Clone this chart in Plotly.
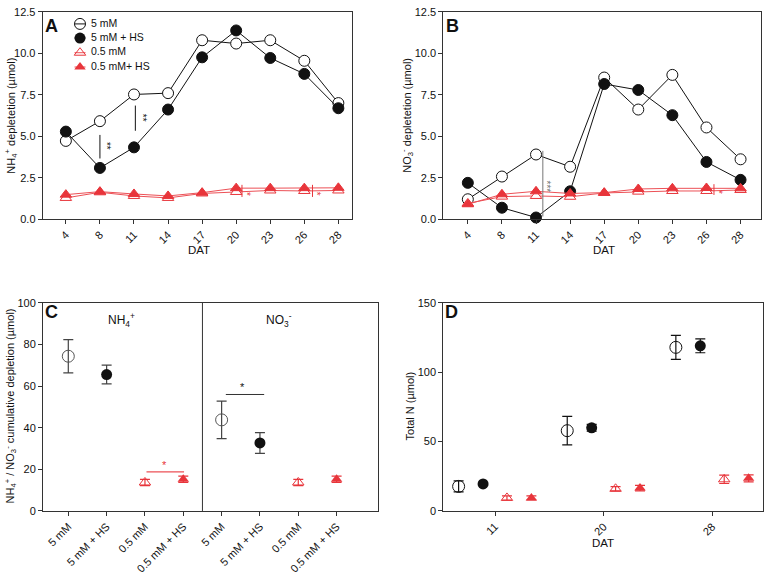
import plotly.graph_objects as go

# ---------------- data ----------------
DAT = ["4", "8", "11", "14", "17", "20", "23", "26", "28"]
SERIES = ["5 mM", "5 mM + HS", "0.5 mM", "0.5 mM+ HS"]

# Panel A: NH4+ depletion (umol)
A_5 = [4.72, 5.91, 7.52, 7.60, 10.79, 10.59, 10.79, 9.55, 7.00]
A_5HS = [5.28, 3.09, 4.33, 6.61, 9.76, 11.38, 9.72, 8.76, 6.69]
A_05 = [1.28, 1.62, 1.40, 1.28, 1.55, 1.64, 1.73, 1.70, 1.73]
A_05HS = [1.48, 1.66, 1.52, 1.40, 1.60, 1.87, 1.87, 1.87, 1.89]

# Panel B: NO3- depletion (umol)
B_5 = [1.20, 2.57, 3.90, 3.16, 8.54, 6.61, 8.70, 5.53, 3.61]
B_5HS = [2.19, 0.69, 0.10, 1.68, 8.15, 7.79, 6.27, 3.45, 2.37]
B_05 = [0.95, 1.36, 1.40, 1.35, 1.58, 1.66, 1.70, 1.70, 1.76]
B_05HS = [0.90, 1.50, 1.68, 1.55, 1.60, 1.82, 1.86, 1.88, 1.86]

# Panel C: cumulative depletion (umol)
C_LABELS = ["5 mM", "5 mM + HS", "0.5 mM", "0.5 mM + HS"]
C_IONS = ["NH<sub>4</sub><sup>+</sup>", "NO<sub>3</sub><sup>-</sup>"]
C_NH4 = [74.4, 65.6, 13.7, 15.2]
C_NH4_ERR = [8.0, 4.5, 1.5, 1.5]
C_NO3 = [43.8, 32.7, 13.7, 15.2]
C_NO3_ERR = [9.0, 5.0, 1.5, 1.5]

# Panel D: total N (umol)
D_DAT = ["11", "20", "28"]
D_5 = [17.7, 57.9, 118.0]
D_5_ERR = [4.0, 10.3, 8.7]
D_5HS = [19.5, 60.0, 119.1]
D_5HS_ERR = [1.0, 2.5, 5.0]
D_05 = [9.4, 16.0, 22.8]
D_05_ERR = [1.5, 1.5, 3.0]
D_05HS = [9.4, 16.5, 23.5]
D_05HS_ERR = [1.5, 2.0, 2.5]

# ---------------- style ----------------
W, H = 765, 576
FONT = "Liberation Sans, Arial, sans-serif"
BLACK = "#111111"
AX = "#333333"
RED = "#e8353b"
RED_LINE = "#ec5056"
D_OFFSETS = [-0.335, -0.11, 0.11, 0.335]


def px_x(p):
    return p / W


def px_y(p):
    return 1 - p / H


dom = {
    "A": ([px_x(42.7), px_x(352)], [px_y(217.7), px_y(6)]),
    "B": ([px_x(443.3), px_x(761)], [px_y(217.7), px_y(6)]),
    "C": ([px_x(43), px_x(378)], [px_y(515.7), px_y(303.3)]),
    "D": ([px_x(443.3), px_x(763.3)], [px_y(515.7), px_y(303.3)]),
}

styles = [
    dict(symbol="circle", size=11, color="white", line=dict(color=BLACK, width=1)),
    dict(symbol="circle", size=11, color=BLACK, line=dict(color=BLACK, width=1)),
    dict(symbol="triangle-up", size=10, color="white", line=dict(color=RED, width=1)),
    dict(symbol="triangle-up", size=10, color=RED, line=dict(color=RED, width=1)),
]
line_colors = [BLACK, BLACK, RED_LINE, RED_LINE]

fig = go.Figure()

# ---------- A & B line panels ----------
for (xa, ya, sets) in [("x", "y", [A_5, A_5HS, A_05, A_05HS]),
                       ("x2", "y2", [B_5, B_5HS, B_05, B_05HS])]:
    for i, vals in enumerate(sets):
        fig.add_trace(go.Scatter(
            x=DAT, y=vals, mode="lines+markers", name=SERIES[i],
            line=dict(color=line_colors[i], width=1),
            marker=styles[i], xaxis=xa, yaxis=ya, showlegend=False,
            cliponaxis=False))

# ---------- C panel ----------
c_open = [
    dict(symbol="circle-open", size=12, color="#555555", line=dict(width=1)),
    dict(symbol="circle", size=11, color=BLACK),
    dict(symbol="triangle-up-open", size=10, color=RED, line=dict(width=1)),
    dict(symbol="triangle-up", size=10, color=RED),
]
err_cols = ["#444444", "#444444", RED, RED]
for i in range(4):
    fig.add_trace(go.Scatter(
        x=[i, i + 4], y=[C_NH4[i], C_NO3[i]], mode="markers", name=SERIES[i],
        marker=c_open[i],
        error_y=dict(type="data", array=[C_NH4_ERR[i], C_NO3_ERR[i]],
                     color=err_cols[i], thickness=1.2, width=5),
        xaxis="x3", yaxis="y3", showlegend=False))

# ---------- D panel ----------
d_sets = [(D_5, D_5_ERR), (D_5HS, D_5HS_ERR), (D_05, D_05_ERR), (D_05HS, D_05HS_ERR)]
for i, (vals, errs) in enumerate(d_sets):
    fig.add_trace(go.Scatter(
        x=[k + D_OFFSETS[i] for k in range(len(D_DAT))], y=vals, mode="markers",
        name=SERIES[i], marker=c_open[i] if i != 0 else dict(
            symbol="circle-open", size=12, color=BLACK, line=dict(width=1)),
        error_y=dict(type="data", array=errs, color=err_cols[i] if i > 1 else BLACK,
                     thickness=1.2, width=5),
        xaxis="x4", yaxis="y4", showlegend=False))

# ---------- custom legend in panel A ----------
leg_x = (80 - 42.7) / (352 - 42.7)
leg_tx = (91 - 42.7) / (352 - 42.7)
leg_rows = [18.3, 32.7, 47.7, 62.3]
leg_syms = [
    dict(symbol="circle-open", size=11, color=BLACK, line=dict(width=1)),
    dict(symbol="circle", size=11, color=BLACK),
    dict(symbol="triangle-up-open", size=10, color=RED, line=dict(width=1)),
    dict(symbol="triangle-up", size=10, color=RED),
]
dx = 5.5 / (352 - 42.7)
for i, name in enumerate(SERIES):
    yy = (217.7 - leg_rows[i]) / (217.7 - 6)
    fig.add_trace(go.Scatter(x=[leg_x - dx, leg_x + dx], y=[yy, yy], mode="lines",
                             line=dict(color=line_colors[i], width=1),
                             xaxis="x5", yaxis="y5", showlegend=False, hoverinfo="skip"))
    fig.add_trace(go.Scatter(x=[leg_x], y=[yy], mode="markers", marker=leg_syms[i],
                             xaxis="x5", yaxis="y5", showlegend=False, hoverinfo="skip"))
    fig.add_trace(go.Scatter(x=[leg_tx], y=[yy], mode="text", text=[name],
                             textposition="middle right",
                             textfont=dict(family=FONT, size=10.5, color=BLACK),
                             xaxis="x5", yaxis="y5", showlegend=False, hoverinfo="skip",
                             cliponaxis=False))

# ---------- axes ----------
tickfont = dict(family=FONT, size=11, color=BLACK)
base_x = dict(showline=True, linecolor=AX, linewidth=1, mirror=True, ticks="outside",
              ticklen=4, tickcolor=AX, tickwidth=1, showgrid=False, zeroline=False,
              tickfont=tickfont, tickangle=-45)
base_y = dict(showline=True, linecolor=AX, linewidth=1, mirror=True, ticks="outside",
              ticklen=4, tickcolor=AX, tickwidth=1, showgrid=False, zeroline=False,
              tickfont=tickfont)

layout = dict(
    width=W, height=H, margin=dict(l=0, r=0, t=0, b=0),
    paper_bgcolor="white", plot_bgcolor="white",
    font=dict(family=FONT, size=11, color=BLACK),
    showlegend=False,
    xaxis=dict(base_x, domain=dom["A"][0], anchor="y", type="category",
               range=[-0.68, 8.4]),
    yaxis=dict(base_y, domain=dom["A"][1], anchor="x", range=[0, 12.5],
               tickvals=[0, 2.5, 5, 7.5, 10, 12.5], tickformat=".1f"),
    xaxis2=dict(base_x, domain=dom["B"][0], anchor="y2", type="category",
                range=[-0.72, 8.6]),
    yaxis2=dict(base_y, domain=dom["B"][1], anchor="x2", range=[0, 12.5],
                tickvals=[0, 2.5, 5, 7.5, 10, 12.5], tickformat=".1f"),
    xaxis3=dict(base_x, domain=dom["C"][0], anchor="y3", range=[-0.66, 8.08],
                tickvals=list(range(8)), ticktext=C_LABELS + C_LABELS),
    yaxis3=dict(base_y, domain=dom["C"][1], anchor="x3", range=[0, 100],
                tickvals=[0, 20, 40, 60, 80, 100]),
    xaxis4=dict(base_x, domain=dom["D"][0], anchor="y4", range=[-0.476, 2.47],
                tickvals=list(range(len(D_DAT))), ticktext=D_DAT),
    yaxis4=dict(base_y, domain=dom["D"][1], anchor="x4", range=[0, 150],
                tickvals=[0, 50, 100, 150]),
    xaxis5=dict(domain=dom["A"][0], anchor="y5", range=[0, 1], visible=False,
                overlaying="x"),
    yaxis5=dict(domain=dom["A"][1], anchor="x5", range=[0, 1], visible=False,
                overlaying="y"),
)

shapes = []
annotations = []

# Panel letters
for letter, (xp, yp) in {"A": (51, 20), "B": (452, 20), "C": (51, 313), "D": (451, 313)}.items():
    annotations.append(dict(text="<b>%s</b>" % letter, x=px_x(xp), y=px_y(yp), xref="paper",
                            yref="paper", showarrow=False, xanchor="center", yanchor="middle",
                            font=dict(family=FONT, size=18, color=BLACK)))

# Axis titles
def ytitle(text, xp, yp):
    annotations.append(dict(text=text, x=px_x(xp), y=px_y(yp), xref="paper", yref="paper",
                            showarrow=False, textangle=-90, xanchor="center", yanchor="middle",
                            font=dict(family=FONT, size=11, color=BLACK)))


def xtitle(text, xp, yp):
    annotations.append(dict(text=text, x=px_x(xp), y=px_y(yp), xref="paper", yref="paper",
                            showarrow=False, xanchor="center", yanchor="middle",
                            font=dict(family=FONT, size=11.5, color=BLACK)))


ytitle("NH<sub>4</sub><sup>+</sup> depletetion (µmol)", 11, 112)
ytitle("NO<sub>3</sub><sup>-</sup> depletetion (µmol)", 407, 112)
ytitle("NH<sub>4</sub><sup>+</sup> / NO<sub>3</sub><sup>-</sup> cumulative depletion (µmol)", 11, 409)
ytitle("Total N (µmol)", 410, 409)
xtitle("DAT", 199, 249)
xtitle("DAT", 604, 249)
xtitle("DAT", 603, 548)

# Panel C ion labels + divider
annotations.append(dict(text=C_IONS[0], x=1.39, y=92, xref="x3", yref="y3", showarrow=False,
                        font=dict(family=FONT, size=12, color=BLACK)))
annotations.append(dict(text=C_IONS[1], x=5.5, y=92, xref="x3", yref="y3", showarrow=False,
                        font=dict(family=FONT, size=12, color=BLACK)))
shapes.append(dict(type="line", x0=3.5, x1=3.5, y0=0, y1=100, xref="x3", yref="y3",
                   line=dict(color=AX, width=1)))

# significance marks
def sig(xref, yref, x, y0, y1, txt, tx, ty, color, rot=True, size=10):
    shapes.append(dict(type="line", x0=x, x1=x, y0=y0, y1=y1, xref=xref, yref=yref,
                       line=dict(color=color, width=1)))
    annotations.append(dict(text=txt, x=tx, y=ty, xref=xref, yref=yref, showarrow=False,
                            textangle=90 if rot else 0,
                            font=dict(family=FONT, size=size, color=color)))


sig("x", "y", 1.0, 3.66, 5.08, "**", 1.19, 4.39, BLACK)
sig("x", "y", 2.04, 5.33, 6.85, "**", 2.23, 6.12, BLACK)
sig("x", "y", 5.17, 1.34, 2.07, "*", 5.29, 1.52, RED)
sig("x", "y", 7.24, 1.34, 2.07, "*", 7.35, 1.52, RED)
sig("x2", "y2", 2.2, 0.16, 4.12, "***", 2.3, 1.95, "#777777")
sig("x2", "y2", 7.22, 1.46, 2.11, "*", 7.34, 1.64, RED)

# horizontal significance bars in C
shapes.append(dict(type="line", x0=4.11, x1=5.11, y0=56, y1=56, xref="x3", yref="y3",
                   line=dict(color="#333333", width=1)))
annotations.append(dict(text="*", x=4.55, y=59.5, xref="x3", yref="y3", showarrow=False,
                        font=dict(family=FONT, size=11, color=BLACK)))
shapes.append(dict(type="line", x0=2.04, x1=3.02, y0=18.8, y1=18.8, xref="x3", yref="y3",
                   line=dict(color=RED_LINE, width=1.2)))
annotations.append(dict(text="*", x=2.52, y=22.0, xref="x3", yref="y3", showarrow=False,
                        font=dict(family=FONT, size=11, color=RED)))

layout["shapes"] = shapes
layout["annotations"] = annotations
fig.update_layout(**layout)

fig.write_html("out.html", config={"displayModeBar": False},
               post_script="document.body.style.margin='0';")
